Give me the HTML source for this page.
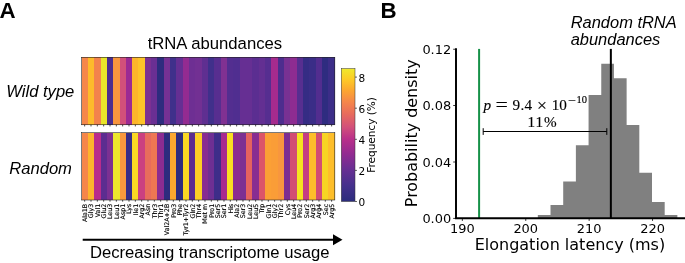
<!DOCTYPE html>
<html lang="en"><head><meta charset="utf-8"><title>tRNA abundances</title>
<style>html,body{margin:0;padding:0;background:#fff;}body{width:685px;height:263px;overflow:hidden;}svg{display:block;will-change:transform;}.ar{font-family:"Liberation Sans",Arial,sans-serif;}.dj{font-family:"DejaVu Sans","Liberation Sans",sans-serif;}.se{font-family:"Liberation Serif","DejaVu Serif",serif;}</style></head><body>
<svg width="685" height="263" viewBox="0 0 685 263">
<rect x="0" y="0" width="685" height="263" fill="#ffffff"/>
<text class="ar" x="-0.6" y="18.1" font-size="22.3" font-weight="bold" fill="#000">A</text>
<text class="ar" x="380.6" y="18.1" font-size="22.3" font-weight="bold" fill="#000">B</text>
<text class="ar" x="214.9" y="48.5" font-size="16.7" text-anchor="middle" fill="#000">tRNA abundances</text>
<text class="ar" x="40.3" y="96.8" font-size="16.6" font-style="italic" text-anchor="middle" fill="#000">Wild type</text>
<text class="ar" x="40.6" y="173.5" font-size="16.6" font-style="italic" text-anchor="middle" fill="#000">Random</text>
<g shape-rendering="crispEdges">
<rect x="81.50" y="57.3" width="6.63" height="67.45" fill="#F5874A"/>
<rect x="87.83" y="57.3" width="6.63" height="67.45" fill="#FDBB2B"/>
<rect x="94.17" y="57.3" width="6.63" height="67.45" fill="#F3834C"/>
<rect x="100.50" y="57.3" width="6.63" height="67.45" fill="#E8E52A"/>
<rect x="106.83" y="57.3" width="6.63" height="67.45" fill="#4B2D8F"/>
<rect x="113.16" y="57.3" width="6.63" height="67.45" fill="#F8963E"/>
<rect x="119.50" y="57.3" width="6.63" height="67.45" fill="#D2507A"/>
<rect x="125.83" y="57.3" width="6.63" height="67.45" fill="#9C2A93"/>
<rect x="132.16" y="57.3" width="6.63" height="67.45" fill="#FDB52B"/>
<rect x="138.49" y="57.3" width="6.63" height="67.45" fill="#FEC329"/>
<rect x="144.82" y="57.3" width="6.63" height="67.45" fill="#7C3092"/>
<rect x="151.16" y="57.3" width="6.63" height="67.45" fill="#6A2F93"/>
<rect x="157.49" y="57.3" width="6.63" height="67.45" fill="#2E2C7E"/>
<rect x="163.82" y="57.3" width="6.63" height="67.45" fill="#753194"/>
<rect x="170.16" y="57.3" width="6.63" height="67.45" fill="#40308B"/>
<rect x="176.49" y="57.3" width="6.63" height="67.45" fill="#652F93"/>
<rect x="182.82" y="57.3" width="6.63" height="67.45" fill="#932B91"/>
<rect x="189.15" y="57.3" width="6.63" height="67.45" fill="#6E2F93"/>
<rect x="195.49" y="57.3" width="6.63" height="67.45" fill="#723093"/>
<rect x="201.82" y="57.3" width="6.63" height="67.45" fill="#5F2F91"/>
<rect x="208.15" y="57.3" width="6.63" height="67.45" fill="#40308B"/>
<rect x="214.48" y="57.3" width="6.63" height="67.45" fill="#572E90"/>
<rect x="220.81" y="57.3" width="6.63" height="67.45" fill="#803192"/>
<rect x="227.15" y="57.3" width="6.63" height="67.45" fill="#532E90"/>
<rect x="233.48" y="57.3" width="6.63" height="67.45" fill="#502E90"/>
<rect x="239.81" y="57.3" width="6.63" height="67.45" fill="#662F93"/>
<rect x="246.15" y="57.3" width="6.63" height="67.45" fill="#662F93"/>
<rect x="252.48" y="57.3" width="6.63" height="67.45" fill="#5B2E91"/>
<rect x="258.81" y="57.3" width="6.63" height="67.45" fill="#632F92"/>
<rect x="265.14" y="57.3" width="6.63" height="67.45" fill="#562E90"/>
<rect x="271.48" y="57.3" width="6.63" height="67.45" fill="#A62B8E"/>
<rect x="277.81" y="57.3" width="6.63" height="67.45" fill="#4D2D8E"/>
<rect x="284.14" y="57.3" width="6.63" height="67.45" fill="#783193"/>
<rect x="290.47" y="57.3" width="6.63" height="67.45" fill="#8E2C91"/>
<rect x="296.81" y="57.3" width="6.63" height="67.45" fill="#572E90"/>
<rect x="303.14" y="57.3" width="6.63" height="67.45" fill="#352C84"/>
<rect x="309.47" y="57.3" width="6.63" height="67.45" fill="#3A2D87"/>
<rect x="315.80" y="57.3" width="6.63" height="67.45" fill="#522D8F"/>
<rect x="322.13" y="57.3" width="6.63" height="67.45" fill="#2F2C80"/>
<rect x="328.47" y="57.3" width="6.63" height="67.45" fill="#3C2D88"/>
</g>
<rect x="81.5" y="57.3" width="253.30" height="67.45" fill="none" stroke="#222" stroke-width="0.6"/>
<g shape-rendering="crispEdges">
<rect x="81.50" y="132.5" width="6.63" height="67.50" fill="#F5864A"/>
<rect x="87.83" y="132.5" width="6.63" height="67.50" fill="#FDB32D"/>
<rect x="94.17" y="132.5" width="6.63" height="67.50" fill="#B92B8C"/>
<rect x="100.50" y="132.5" width="6.63" height="67.50" fill="#5C2D90"/>
<rect x="106.83" y="132.5" width="6.63" height="67.50" fill="#7C3092"/>
<rect x="113.16" y="132.5" width="6.63" height="67.50" fill="#EDE72D"/>
<rect x="119.50" y="132.5" width="6.63" height="67.50" fill="#F9983D"/>
<rect x="125.83" y="132.5" width="6.63" height="67.50" fill="#372C87"/>
<rect x="132.16" y="132.5" width="6.63" height="67.50" fill="#FAD823"/>
<rect x="138.49" y="132.5" width="6.63" height="67.50" fill="#CB4080"/>
<rect x="144.82" y="132.5" width="6.63" height="67.50" fill="#E86C5C"/>
<rect x="151.16" y="132.5" width="6.63" height="67.50" fill="#EE7753"/>
<rect x="157.49" y="132.5" width="6.63" height="67.50" fill="#8C2C91"/>
<rect x="163.82" y="132.5" width="6.63" height="67.50" fill="#2E2C7E"/>
<rect x="170.16" y="132.5" width="6.63" height="67.50" fill="#FCA82F"/>
<rect x="176.49" y="132.5" width="6.63" height="67.50" fill="#2E2C7E"/>
<rect x="182.82" y="132.5" width="6.63" height="67.50" fill="#FAD823"/>
<rect x="189.15" y="132.5" width="6.63" height="67.50" fill="#5C2D90"/>
<rect x="195.49" y="132.5" width="6.63" height="67.50" fill="#FCD025"/>
<rect x="201.82" y="132.5" width="6.63" height="67.50" fill="#882D91"/>
<rect x="208.15" y="132.5" width="6.63" height="67.50" fill="#6E2F93"/>
<rect x="214.48" y="132.5" width="6.63" height="67.50" fill="#3E2D89"/>
<rect x="220.81" y="132.5" width="6.63" height="67.50" fill="#A82A8F"/>
<rect x="227.15" y="132.5" width="6.63" height="67.50" fill="#FADF22"/>
<rect x="233.48" y="132.5" width="6.63" height="67.50" fill="#8C2C91"/>
<rect x="239.81" y="132.5" width="6.63" height="67.50" fill="#7C3092"/>
<rect x="246.15" y="132.5" width="6.63" height="67.50" fill="#E4625F"/>
<rect x="252.48" y="132.5" width="6.63" height="67.50" fill="#882D91"/>
<rect x="258.81" y="132.5" width="6.63" height="67.50" fill="#DC5569"/>
<rect x="265.14" y="132.5" width="6.63" height="67.50" fill="#FBA035"/>
<rect x="271.48" y="132.5" width="6.63" height="67.50" fill="#FA9D37"/>
<rect x="277.81" y="132.5" width="6.63" height="67.50" fill="#F8963E"/>
<rect x="284.14" y="132.5" width="6.63" height="67.50" fill="#7C2D91"/>
<rect x="290.47" y="132.5" width="6.63" height="67.50" fill="#D24D73"/>
<rect x="296.81" y="132.5" width="6.63" height="67.50" fill="#F5E320"/>
<rect x="303.14" y="132.5" width="6.63" height="67.50" fill="#C53D83"/>
<rect x="309.47" y="132.5" width="6.63" height="67.50" fill="#FDBE2A"/>
<rect x="315.80" y="132.5" width="6.63" height="67.50" fill="#D24D73"/>
<rect x="322.13" y="132.5" width="6.63" height="67.50" fill="#F7D423"/>
<rect x="328.47" y="132.5" width="6.63" height="67.50" fill="#FDBE2A"/>
</g>
<rect x="81.5" y="132.5" width="253.30" height="67.50" fill="none" stroke="#222" stroke-width="0.6"/>
<path d="M84.67 124.75v1.7M91.00 124.75v1.7M97.33 124.75v1.7M103.66 124.75v1.7M110.00 124.75v1.7M116.33 124.75v1.7M122.66 124.75v1.7M128.99 124.75v1.7M135.33 124.75v1.7M141.66 124.75v1.7M147.99 124.75v1.7M154.32 124.75v1.7M160.66 124.75v1.7M166.99 124.75v1.7M173.32 124.75v1.7M179.65 124.75v1.7M185.99 124.75v1.7M192.32 124.75v1.7M198.65 124.75v1.7M204.98 124.75v1.7M211.32 124.75v1.7M217.65 124.75v1.7M223.98 124.75v1.7M230.31 124.75v1.7M236.65 124.75v1.7M242.98 124.75v1.7M249.31 124.75v1.7M255.64 124.75v1.7M261.98 124.75v1.7M268.31 124.75v1.7M274.64 124.75v1.7M280.97 124.75v1.7M287.31 124.75v1.7M293.64 124.75v1.7M299.97 124.75v1.7M306.30 124.75v1.7M312.64 124.75v1.7M318.97 124.75v1.7M325.30 124.75v1.7M331.63 124.75v1.7M84.67 200.0v1.7M91.00 200.0v1.7M97.33 200.0v1.7M103.66 200.0v1.7M110.00 200.0v1.7M116.33 200.0v1.7M122.66 200.0v1.7M128.99 200.0v1.7M135.33 200.0v1.7M141.66 200.0v1.7M147.99 200.0v1.7M154.32 200.0v1.7M160.66 200.0v1.7M166.99 200.0v1.7M173.32 200.0v1.7M179.65 200.0v1.7M185.99 200.0v1.7M192.32 200.0v1.7M198.65 200.0v1.7M204.98 200.0v1.7M211.32 200.0v1.7M217.65 200.0v1.7M223.98 200.0v1.7M230.31 200.0v1.7M236.65 200.0v1.7M242.98 200.0v1.7M249.31 200.0v1.7M255.64 200.0v1.7M261.98 200.0v1.7M268.31 200.0v1.7M274.64 200.0v1.7M280.97 200.0v1.7M287.31 200.0v1.7M293.64 200.0v1.7M299.97 200.0v1.7M306.30 200.0v1.7M312.64 200.0v1.7M318.97 200.0v1.7M325.30 200.0v1.7M331.63 200.0v1.7" stroke="#000" stroke-width="0.7" fill="none"/>
<g class="dj" font-size="6.3" fill="#000" stroke="#000" stroke-width="0.13" text-anchor="end">
<text transform="translate(86.87 203.8) rotate(-90)">Ala1B</text>
<text transform="translate(93.20 203.8) rotate(-90)">Gly3</text>
<text transform="translate(99.53 203.8) rotate(-90)">Val1</text>
<text transform="translate(105.86 203.8) rotate(-90)">Glu2</text>
<text transform="translate(112.20 203.8) rotate(-90)">Leu3</text>
<text transform="translate(118.53 203.8) rotate(-90)">Leu1</text>
<text transform="translate(124.86 203.8) rotate(-90)">Asp1</text>
<text transform="translate(131.19 203.8) rotate(-90)">Lys</text>
<text transform="translate(137.53 203.8) rotate(-90)">Ile1</text>
<text transform="translate(143.86 203.8) rotate(-90)">Arg2</text>
<text transform="translate(150.19 203.8) rotate(-90)">Asn</text>
<text transform="translate(156.52 203.8) rotate(-90)">Thr3</text>
<text transform="translate(162.86 203.8) rotate(-90)">Thr1</text>
<text transform="translate(169.19 203.8) rotate(-90)">Val2A+2B</text>
<text transform="translate(175.52 203.8) rotate(-90)">Pro3</text>
<text transform="translate(181.85 203.8) rotate(-90)">Phe</text>
<text transform="translate(188.19 203.8) rotate(-90)">Tyr1+Tyr2</text>
<text transform="translate(194.52 203.8) rotate(-90)">Gln2</text>
<text transform="translate(200.85 203.8) rotate(-90)">Thr4</text>
<text transform="translate(207.18 203.8) rotate(-90)">Met m</text>
<text transform="translate(213.52 203.8) rotate(-90)">Pro1</text>
<text transform="translate(219.85 203.8) rotate(-90)">Ser5</text>
<text transform="translate(226.18 203.8) rotate(-90)">Ser1</text>
<text transform="translate(232.51 203.8) rotate(-90)">His</text>
<text transform="translate(238.85 203.8) rotate(-90)">Ala2</text>
<text transform="translate(245.18 203.8) rotate(-90)">Ser3</text>
<text transform="translate(251.51 203.8) rotate(-90)">Leu2</text>
<text transform="translate(257.84 203.8) rotate(-90)">Leu5</text>
<text transform="translate(264.18 203.8) rotate(-90)">Trp</text>
<text transform="translate(270.51 203.8) rotate(-90)">Gln1</text>
<text transform="translate(276.84 203.8) rotate(-90)">Gly2</text>
<text transform="translate(283.17 203.8) rotate(-90)">Thr2</text>
<text transform="translate(289.51 203.8) rotate(-90)">Cys</text>
<text transform="translate(295.84 203.8) rotate(-90)">Leu4</text>
<text transform="translate(302.17 203.8) rotate(-90)">Pro2</text>
<text transform="translate(308.50 203.8) rotate(-90)">Ser2</text>
<text transform="translate(314.84 203.8) rotate(-90)">Arg3</text>
<text transform="translate(321.17 203.8) rotate(-90)">Arg4</text>
<text transform="translate(327.50 203.8) rotate(-90)">Sec</text>
<text transform="translate(333.83 203.8) rotate(-90)">Arg5</text>
</g>
<path d="M82.7 239.75H334" stroke="#000" stroke-width="1.8" fill="none"/>
<path d="M333 234.2L342.5 239.75L333 245.3Z" fill="#000"/>
<text class="ar" x="209.75" y="257.8" font-size="16.65" text-anchor="middle" fill="#000">Decreasing transcriptome usage</text>
<defs><linearGradient id="pl" x1="0" y1="1" x2="0" y2="0">
<stop offset="0" stop-color="#2B2C7C"/>
<stop offset="0.12" stop-color="#45308C"/>
<stop offset="0.25" stop-color="#6A2F93"/>
<stop offset="0.36" stop-color="#932B91"/>
<stop offset="0.47" stop-color="#B9308A"/>
<stop offset="0.56" stop-color="#D2507A"/>
<stop offset="0.66" stop-color="#E86C5C"/>
<stop offset="0.75" stop-color="#F5874A"/>
<stop offset="0.84" stop-color="#FCA82F"/>
<stop offset="0.92" stop-color="#FDCB26"/>
<stop offset="1" stop-color="#EFE92C"/>
</linearGradient></defs>
<rect x="341.3" y="68.55" width="13.7" height="132.95" fill="url(#pl)" stroke="#333" stroke-width="0.5"/>
<path d="M355 201.50h2M355 170.40h2M355 139.30h2M355 108.20h2M355 77.10h2" stroke="#000" stroke-width="0.6" fill="none"/>
<g class="dj" font-size="10.5" fill="#000">
<text x="358.5" y="205.95">0</text>
<text x="358.5" y="174.85">2</text>
<text x="358.5" y="143.75">4</text>
<text x="358.5" y="112.65">6</text>
<text x="358.5" y="81.55">8</text>
<text transform="translate(375.2 134.95) rotate(-90)" text-anchor="middle">Frequency (%)</text>
</g>
<path d="M537.83 218.3V215.1H550.51V205.1H563.20V181.5H575.88V145.3H588.57V95.1H601.26V63.7H613.94V78.3H626.63V125.1H639.31V172.8H652.00V201.9H664.69V215.0H677.37V218.3Z" fill="#808080"/>
<path d="M479.1 48.9V218.3" stroke="#169148" stroke-width="2" fill="none"/>
<path d="M610.85 48.9V218.3" stroke="#000" stroke-width="2" fill="none"/>
<path d="M483.2 131.5H606.8M483.2 128.2V134.9M606.8 128.2V134.9" stroke="#000" stroke-width="1" fill="none"/>
<path d="M456.0 48.2V219.25M455.0 218.3H685" stroke="#000" stroke-width="1.95" fill="none"/>
<path d="M453.2 49.25H455.7M453.2 105.5H455.7M453.2 162.0H455.7M453.2 218.4H455.7M462.35 218.3v2.6M525.75 218.3v2.6M589.15 218.3v2.6M652.55 218.3v2.6" stroke="#000" stroke-width="0.8" fill="none"/>
<g class="dj" font-size="12.95" fill="#000">
<text x="451.2" y="53.60" text-anchor="end">0.12</text>
<text x="451.2" y="110.10" text-anchor="end">0.08</text>
<text x="451.2" y="166.70" text-anchor="end">0.04</text>
<text x="451.2" y="223.45" text-anchor="end">0.00</text>
<text x="462.35" y="232.75" text-anchor="middle">190</text>
<text x="525.75" y="232.75" text-anchor="middle">200</text>
<text x="589.15" y="232.75" text-anchor="middle">210</text>
<text x="652.55" y="232.75" text-anchor="middle">220</text>
</g>
<text class="dj" x="569.9" y="249.9" font-size="16.0" text-anchor="middle" fill="#000">Elongation latency (ms)</text>
<text class="dj" transform="translate(417.1 133.3) rotate(-90)" font-size="15.95" text-anchor="middle" fill="#000">Probability density</text>
<text class="ar" x="570.7" y="28.3" font-size="16.45" font-style="italic" fill="#000">Random tRNA</text>
<text class="ar" x="570.7" y="45.3" font-size="16.45" font-style="italic" fill="#000">abundances</text>
<g class="se" font-size="15.2" fill="#000" stroke="#000" stroke-width="0.15">
<text x="483.6" y="109.85" font-style="italic">p</text>
<text x="495.5" y="111.2" font-size="18.5" textLength="12.4" lengthAdjust="spacingAndGlyphs">=</text>
<text x="512.5" y="109.85" letter-spacing="0.3">9.4</text>
<text x="536.9" y="111.2" font-size="17.6">×</text>
<text x="551.7" y="109.85">10</text>
<text x="567.7" y="105.3" font-size="14.2">−</text>
<text x="576.4" y="103.35" font-size="10.5">10</text>
<text x="527.5" y="127.1" letter-spacing="1.0">11%</text>
</g>
</svg></body></html>
